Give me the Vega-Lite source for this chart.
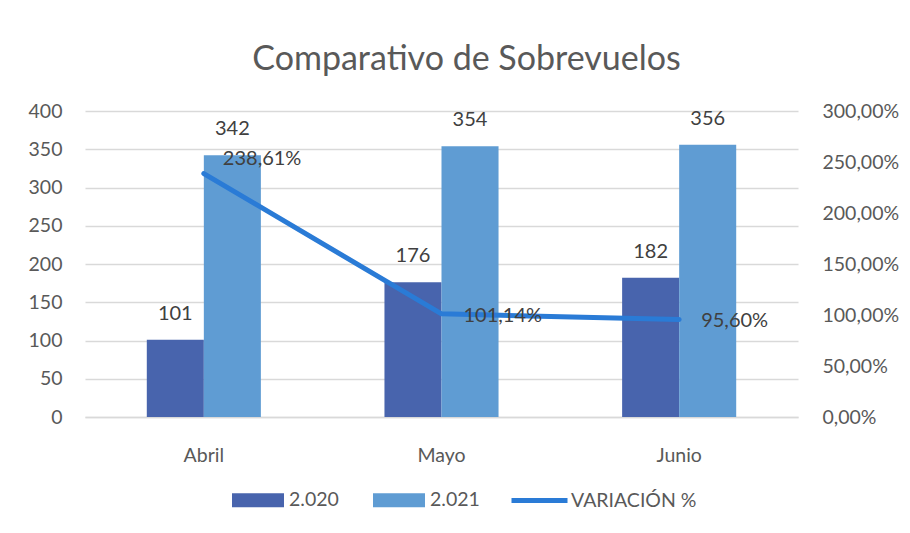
{
  "$schema": "https://vega.github.io/schema/vega-lite/v6.json",
  "width": 713,
  "height": 306,
  "autosize": {"type": "none"},
  "padding": {"left": 85, "top": 111, "right": 112, "bottom": 116},
  "background": "white",
  "config": {
    "locale": {"number": {"decimal": ",", "thousands": ".", "grouping": [3], "currency": ["", " €"]}},
    "font": "Lato",
    "view": {"stroke": null},
    "axis": {
      "labelFont": "Lato",
      "labelColor": "#595959",
      "labelFontSize": 19.5,
      "ticks": false,
      "domain": false,
      "gridColor": "#d9d9d9",
      "gridWidth": 1.3,
      "title": null
    },
    "legend": {
      "labelFont": "Lato",
      "labelFontSize": 19.5,
      "labelColor": "#595959",
      "title": null
    }
  },
  "title": {
    "text": "Comparativo de Sobrevuelos",
    "font": "Lato",
    "fontSize": 34,
    "fontWeight": "normal",
    "color": "#595959",
    "anchor": "middle",
    "dx": 25,
    "baseline": "alphabetic",
    "offset": -3
  },
  "datasets": {
    "bars": [
      {"mes": "Abril", "serie": "2.020", "valor": 101},
      {"mes": "Abril", "serie": "2.021", "valor": 342},
      {"mes": "Mayo", "serie": "2.020", "valor": 176},
      {"mes": "Mayo", "serie": "2.021", "valor": 354},
      {"mes": "Junio", "serie": "2.020", "valor": 182},
      {"mes": "Junio", "serie": "2.021", "valor": 356}
    ],
    "variacion": [
      {"mes": "Abril", "serie": "VARIACIÓN %", "pct": 2.3861},
      {"mes": "Mayo", "serie": "VARIACIÓN %", "pct": 1.0114},
      {"mes": "Junio", "serie": "VARIACIÓN %", "pct": 0.956}
    ]
  },
  "layer": [
    {
      "data": {"name": "bars"},
      "encoding": {
        "x": {
          "field": "mes",
          "type": "nominal",
          "sort": ["Abril", "Mayo", "Junio"],
          "scale": {"paddingInner": 0.52, "paddingOuter": 0.26},
          "axis": {
            "labelAngle": 0,
            "labelPadding": 29,
            "domain": true,
            "domainColor": "#d9d9d9",
            "domainWidth": 1.3,
            "grid": false
          }
        },
        "xOffset": {"field": "serie", "type": "nominal", "sort": ["2.020", "2.021"]},
        "y": {
          "field": "valor",
          "type": "quantitative",
          "scale": {"domain": [0, 400]},
          "axis": {
            "orient": "left",
            "values": [0, 50, 100, 150, 200, 250, 300, 350, 400],
            "grid": true,
            "labelPadding": 23
          }
        }
      },
      "layer": [
        {
          "mark": {"type": "bar"},
          "encoding": {
            "fill": {
              "field": "serie",
              "type": "nominal",
              "scale": {"domain": ["2.020", "2.021"], "range": ["#4864ad", "#5f9cd3"]},
              "legend": {
                "orient": "none",
                "legendX": 147,
                "legendY": 363,
                "direction": "horizontal",
                "symbolType": "M-1,-0.27H1V0.27H-1Z",
                "symbolSize": 2704,
                "symbolStrokeWidth": 0,
                "labelOffset": 5,
                "columnPadding": 34
              }
            }
          }
        },
        {
          "mark": {"type": "text", "baseline": "middle", "dy": -26, "fontSize": 20, "color": "#404040", "font": "Lato"},
          "encoding": {"text": {"field": "valor", "type": "quantitative"}}
        }
      ]
    },
    {
      "data": {"name": "variacion"},
      "encoding": {
        "x": {"field": "mes", "type": "nominal", "sort": ["Abril", "Mayo", "Junio"]},
        "y": {
          "field": "pct",
          "type": "quantitative",
          "scale": {"domain": [0, 3]},
          "axis": {
            "orient": "right",
            "values": [0, 0.5, 1, 1.5, 2, 2.5, 3],
            "format": ".2%",
            "grid": false,
            "labelPadding": 24
          }
        }
      },
      "layer": [
        {
          "mark": {"type": "line", "strokeWidth": 5, "strokeCap": "round", "strokeJoin": "round"},
          "encoding": {
            "stroke": {
              "field": "serie",
              "type": "nominal",
              "scale": {"domain": ["VARIACIÓN %"], "range": ["#2a7bd6"]},
              "legend": {
                "orient": "none",
                "legendX": 424,
                "legendY": 359,
                "symbolType": "stroke",
                "symbolSize": 3136,
                "symbolStrokeWidth": 5,
                "labelOffset": 1
              }
            }
          }
        },
        {
          "transform": [{"filter": "datum.mes === 'Abril'"}],
          "mark": {"type": "text", "align": "left", "baseline": "middle", "dx": 19, "dy": -15, "fontSize": 20, "color": "#404040", "font": "Lato"},
          "encoding": {"text": {"field": "pct", "type": "quantitative", "format": ".2%"}}
        },
        {
          "transform": [{"filter": "datum.mes !== 'Abril'"}],
          "mark": {"type": "text", "align": "left", "baseline": "middle", "dx": 22, "dy": 2, "fontSize": 20, "color": "#404040", "font": "Lato"},
          "encoding": {"text": {"field": "pct", "type": "quantitative", "format": ".2%"}}
        }
      ]
    }
  ],
  "resolve": {"scale": {"y": "independent"}}
}
